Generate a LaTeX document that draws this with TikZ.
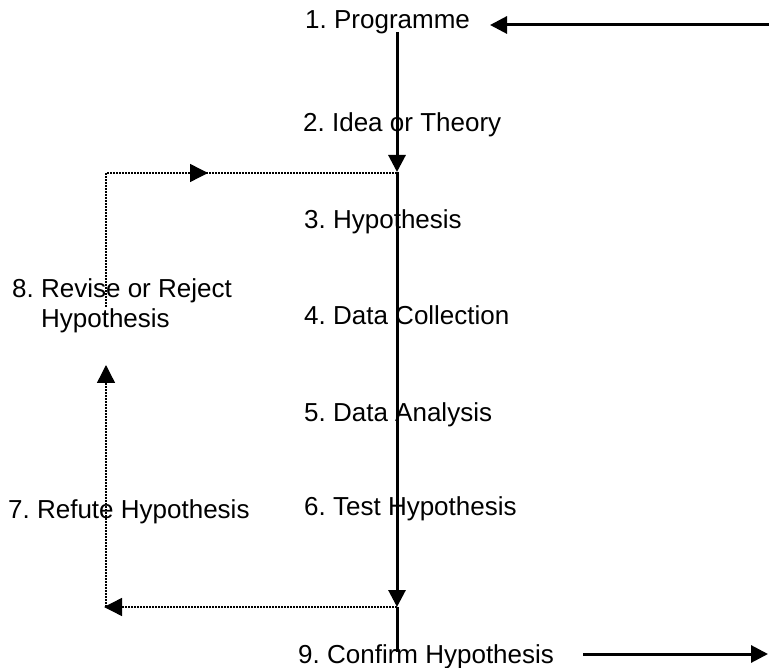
\documentclass[tikz,border=0pt]{standalone}
\usepackage{fontspec}
\setmainfont{Liberation Sans}
\usetikzlibrary{arrows.meta,decorations.markings}
\frenchspacing
\begin{document}
\begin{tikzpicture}[x=1pt,y=-1pt,
  lbl/.style={anchor=base west,inner sep=0pt,align=left,font=\fontsize{26}{30}\selectfont},
  solidline/.style={line width=3pt},
  dotline/.style={line width=1.4pt,dash pattern=on 1.6pt off 1.4pt},
  arrowend/.style={-{Triangle[length=17pt,width=17pt]}},
  arrowdot/.style={-{Triangle[length=18pt,width=18pt]}}]
\useasboundingbox[fill=white] (0,0) rectangle (769,668);

% labels
\node[lbl] (n1) at (305,29) {1. Programme};
\node[lbl] (n2) at (303,132) {2. Idea or Theory};
\node[lbl] (n3) at (304,229) {3. Hypothesis};
\node[lbl] (n4) at (304,325) {4. Data Collection};
\node[lbl] (n5) at (304,422) {5. Data Analysis};
\node[lbl] (n6) at (304,515) {6. Test Hypothesis};
\node[lbl] (n7) at (8,518) {7. Refute Hypothesis};
\node[lbl] (n8) at (12,328) {8.~Revise or Reject\\\phantom{8.~}Hypothesis};
\node[lbl] (n9) at (298,663) {9. Confirm Hypothesis};

% coordinates
\coordinate (rin) at (769,25);
\coordinate (ptip) at (490,25);
\coordinate (vtop) at (397,32);
\coordinate (a1) at (397,172);
\coordinate (a2) at (397,607);
\coordinate (vbot) at (397,652);
\coordinate (bl) at (106,607);
\coordinate (bltip) at (104,607);
\coordinate (r8bot) at (106,365);
\coordinate (r8top) at (106,307);
\coordinate (tl) at (106,173);
\coordinate (tr) at (397,173);
\coordinate (cout) at (583,654);
\coordinate (cend) at (768,654);

% solid connectors
\draw[solidline,arrowend] (rin) -- (ptip);
\draw[solidline,arrowend] (vtop) -- (a1);
\draw[solidline,arrowend] (a1) -- (a2);
\draw[solidline] (a2) -- (vbot);
\draw[solidline,arrowend] (cout) -- (cend);

% dotted loop
\draw[dotline,arrowdot] (a2) -- (bltip);
\draw[dotline,arrowdot] (bl) -- (r8bot);
\draw[dotline,postaction={decorate,decoration={markings,
   mark=at position 236pt with {\arrow{Triangle[length=18pt,width=18pt]}}}}]
   (r8top) -- (tl) -- (tr);
\end{tikzpicture}
\end{document}
